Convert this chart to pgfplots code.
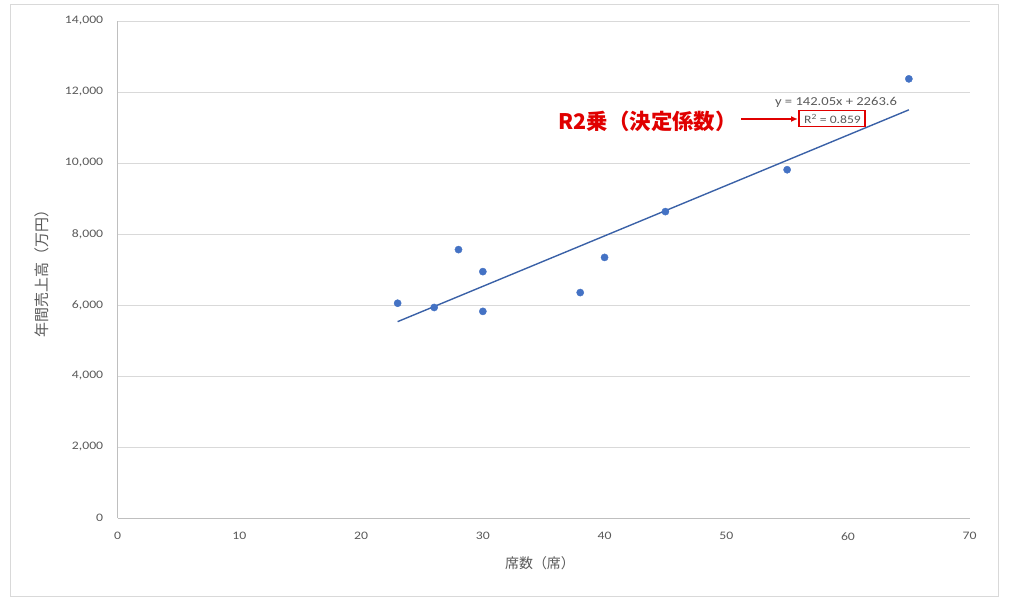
\documentclass[border=0pt]{standalone}
\usepackage{fontspec}
\setmainfont{Carlito}[FakeStretch=1.2]
\newfontfamily\jp{Noto Sans CJK JP}
\usepackage{pgfplots}
\pgfplotsset{compat=1.18}
\usetikzlibrary{arrows.meta}
\definecolor{dot}{HTML}{4472C4}
\definecolor{gridc}{HTML}{D9D9D9}
\definecolor{axisgray}{HTML}{BFBFBF}
\definecolor{txt}{HTML}{595959}
\definecolor{ann}{HTML}{E00000}
\begin{document}
\begin{tikzpicture}[x=1bp,y=1bp]
\useasboundingbox (0,0) rectangle (1024,598);
\draw[gridc,line width=0.8bp] (10,2) rectangle (998,594);
\begin{axis}[
  at={(117.7bp,80bp)}, anchor=south west,
  scale only axis, width=852bp, height=497bp,
  xmin=0, xmax=70, ymin=0, ymax=14000,
  xtick={0,10,...,70}, ytick={0,2000,...,14000},
  axis x line*=bottom, axis y line*=left,
  axis line style={draw=axisgray, line width=0.8bp, -},
  major tick length=0,
  ymajorgrids, grid style={draw=gridc, line width=0.8bp},
  tick label style={font=\fontsize{11.5}{13}\selectfont, text=txt},
  /pgf/number format/assume math mode=true,
  /pgf/number format/1000 sep={,},
  scaled y ticks=false,
  xticklabel style={yshift=-11bp},
  yticklabel style={xshift=-11bp},
  clip=false,
]
\addplot[only marks, mark=*, mark size=3.6bp, color=dot] coordinates {
  (23,6050) (26,5930) (28,7560) (30,6940) (30,5820)
  (38,6350) (40,7340) (45,8630) (55,9810) (65,12370)
};
\addplot[color=dot!85!black, line width=1.4bp] coordinates {
  (23,5531) (65,11497)
};
\end{axis}
\node[rotate=90, text=txt, font=\jp\fontsize{15}{17}\selectfont] at (42,328) {年間売上高（万円）};
\node[text=txt, font=\jp\fontsize{14}{16}\selectfont] at (540,35) {席数（席）};
\node[text=txt, font=\fontsize{12.2}{14}\selectfont] at (836,496) {y = 142.05x + 2263.6};
\node[text=txt, font=\fontsize{11.4}{14}\selectfont] at (832.5,479) {R\textsuperscript{2} = 0.859};
\draw[ann, line width=1.5bp] (799,471.3) rectangle (865,487.3);
\draw[ann, line width=1.5bp, -{Latex[length=7bp,width=6bp]}] (741,479) -- (798,479);
\node[anchor=east, text=ann, font=\jp\bfseries\fontsize{21.5}{23}\selectfont, inner sep=0pt] at (737,477) {R2乗（決定係数）};
\end{tikzpicture}
\end{document}
